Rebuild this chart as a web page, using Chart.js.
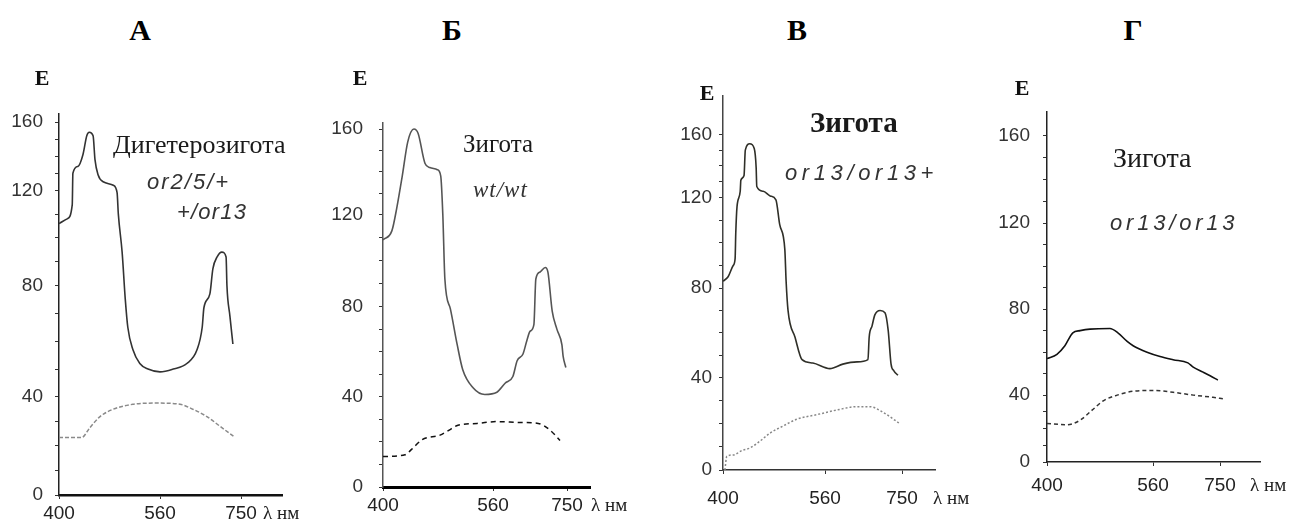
<!DOCTYPE html>
<html lang="ru">
<head>
<meta charset="utf-8">
<title>Спектры поглощения зигот</title>
<script src="https://cdn.jsdelivr.net/npm/chart.js@4.4.1/dist/chart.umd.min.js"></script>
<style>
  html, body { margin: 0; padding: 0; background: #fff; }
  #fig { position: relative; width: 1308px; height: 525px; overflow: hidden; background: #fff; }
  #fig canvas { position: absolute; }
  .t { position: absolute; white-space: nowrap; color: #111; line-height: 1; }
  .letter { font: bold 30px 'Liberation Serif', serif; transform: translate(-50%, -50%); color: #000; }
  .axE { font: bold 22px 'Liberation Serif', serif; transform: translate(-50%, -50%); }
  .axL { font: 19px 'Liberation Serif', serif; transform: translateY(-50%); color: #222; }
  .name { font-family: 'Liberation Serif', serif; transform: translateY(-50%); color: #1a1a1a; }
  .geno { font: italic 22px 'Liberation Sans', sans-serif; color: #333; transform: translateY(-50%); }
  .genoSerif { font: italic 23px 'Liberation Serif', serif; color: #333; transform: translateY(-50%); }
</style>
</head>
<body>
<div id="fig"></div>
<script>
// ---- data (wavelength, nm / E) ----
const wavelengthTicks = [400, 560, 750];
const eTicks = [0, 40, 80, 120, 160];
const panelLetters = ['А', 'Б', 'В', 'Г'];
const zygoteNames = ['Дигетерозигота', 'Зигота', 'Зигота', 'Зигота'];
const genotypes = [['or2/5/+', '+/or13'], ['wt/wt'], ['or13/or13+'], ['or13/or13']];

// А
const aSolidNm = [400, 413, 421, 422, 430, 438, 444, 448, 454, 457, 462, 470, 486, 492, 494, 500, 505, 509, 517, 528, 541, 560, 591, 623, 647, 659, 663, 677, 684, 694, 705, 715, 717, 724, 731];
const aSolidE  = [106, 108, 114, 130, 134, 141, 152, 154, 152, 138, 129, 125, 123, 119, 110, 94, 75, 65, 57, 52, 50, 49, 50, 52, 57, 65, 72, 77, 87, 92, 94, 92, 80, 69, 59];
const aDashNm  = [400, 436, 449, 465, 486, 517, 555, 607, 637, 670, 701, 736];
const aDashE   = [23.5, 23.5, 27.5, 32, 35, 37, 37.5, 37, 35, 32, 28, 23.5];

// Б
const bSolidNm = [400, 413, 420, 428, 436, 445, 451, 461, 468, 479, 484, 487, 490, 498, 508, 516, 531, 548, 570, 591, 611, 622, 637, 647, 655, 665, 670, 681, 694, 701, 712, 724, 737, 740, 747];
const bSolidE  = [109, 113, 123, 138, 154, 160, 158, 144, 142, 141, 138, 120, 92, 79, 63, 52, 44, 41, 42, 46, 49, 56, 59, 65, 69, 72, 92, 95, 97, 95, 78, 70, 63, 58, 53];
const bDashNm  = [400, 432, 442, 457, 483, 495, 509, 537, 570, 629, 676, 706, 732];
const bDashE   = [13.5, 14.3, 16.8, 21, 23, 25, 27.4, 28.2, 29, 28.6, 28.2, 25.3, 20.6];

// В
const vSolidNm = [400, 408, 416, 419, 420, 422, 427, 428, 433, 435, 442, 449, 452, 453, 463, 474, 483, 489, 497, 499, 502, 513, 524, 541, 572, 604, 639, 666, 669, 676, 683, 696, 708, 716, 723, 730, 740];
const vSolidE  = [83, 85, 90, 93, 104, 116, 124, 131, 134, 150, 154, 151, 139, 127, 124, 121, 119, 108, 97, 83, 70, 58, 48, 46.5, 44, 46, 47, 48, 58, 63, 68, 70, 69, 61, 46, 43, 41];
const vDashNm  = [403, 406, 416, 430, 442, 458, 474, 494, 516, 548, 590, 639, 671, 703, 745];
const vDashE   = [0, 6, 6.5, 8.5, 9.5, 12.5, 16, 19, 22, 24, 26, 27.4, 27.4, 25, 20];

// Г
const gSolidNm = [400, 415, 427, 439, 450, 465, 495, 507, 521, 530, 551, 580, 617, 659, 674, 702, 722, 744];
const gSolidE  = [57, 59, 63, 69, 70, 70.7, 71, 69, 65, 63, 60, 58, 56.5, 55, 53, 50.7, 49, 47];
const gDashNm  = [400, 430, 450, 468, 485, 506, 530, 560, 617, 674, 730, 759];
const gDashE   = [23, 22.3, 25, 31, 36.6, 40, 41.8, 42.2, 41.3, 40, 38.7, 37.8];

const solidSeries = [[aSolidNm, aSolidE], [bSolidNm, bSolidE], [vSolidNm, vSolidE], [gSolidNm, gSolidE]];
const dashSeries  = [[aDashNm, aDashE], [bDashNm, bDashE], [vDashNm, vDashE], [gDashNm, gDashE]];

// ---- layout of the four panels (the original axes are hand-labelled, so
// tick positions are uneven: a piecewise scale follows them) ----
const layout = [
  { ox: 59, right: 282, top: 98, bottom: 495,
    xv: [400, 560, 750, 846], xp: [59, 160, 241, 282],
    yv: [0, 40, 80, 120, 160, 165], yp: [495, 393, 277, 178, 107, 98],
    yPad: 12, xPad: 3, xAxisW: 2.5, xAxisC: '#111', yAxisC: '#222',
    solidC: '#333', dashC: '#8a8a8a', dash: [4, 2],
    letter: [140, 30], e: [42, 78], lam: [263, 513],
    name: [113, 145, 26, 'normal'], geno: [[147, 182, 2], [177, 212, 1.2]] },
  { ox: 383, right: 590, top: 103, bottom: 487,
    xv: [400, 560, 750, 809], xp: [383, 493, 567, 590],
    yv: [0, 40, 80, 120, 160, 163], yp: [487, 392, 297, 200, 110, 103],
    yPad: 16, xPad: 3, xAxisW: 3, xAxisC: '#000', yAxisC: '#555',
    solidC: '#555', dashC: '#111', dash: [5, 4],
    letter: [452, 30], e: [360, 78], lam: [591, 505],
    name: [463, 143, 25, 'normal'], geno: [[473, 190, 1]] },
  { ox: 723, right: 935, top: 85, bottom: 470,
    xv: [400, 560, 750, 831], xp: [723, 825, 902, 935],
    yv: [0, 40, 80, 120, 160, 185], yp: [470, 375, 283, 190, 125, 85],
    yPad: 7, xPad: 13, xAxisW: 1.5, xAxisC: '#333', yAxisC: '#444',
    solidC: '#2f2f28', dashC: '#888', dash: [2, 2],
    letter: [797, 30], e: [707, 93], lam: [933, 498],
    name: [810, 122, 29, 'bold'], geno: [[785, 173, 4.6]] },
  { ox: 1047, right: 1260, top: 95, bottom: 462,
    xv: [400, 560, 750, 863], xp: [1047, 1153, 1220, 1260],
    yv: [0, 40, 80, 120, 160, 171], yp: [462, 392, 302, 212, 120, 95],
    yPad: 13, xPad: 8, xAxisW: 1.5, xAxisC: '#222', yAxisC: '#222',
    solidC: '#111', dashC: '#333', dash: [4, 3],
    letter: [1133, 30], e: [1022, 88], lam: [1250, 485],
    name: [1113, 158, 28, 'normal'], geno: [[1110, 223, 3.8]] }
];

const PAD_L = 60, PAD_R = 8, PAD_T = 8, PAD_B = 46;

// piecewise-linear version of the linear scale
const LinearScale = Chart.registry.getScale('linear');
function lerpKnots(v, from, to) {
  let i = 0;
  while (i < from.length - 2 && v > from[i + 1]) i++;
  const t = (v - from[i]) / (from[i + 1] - from[i]);
  return to[i] + t * (to[i + 1] - to[i]);
}
class WarpScale extends LinearScale {
  static id = 'warp';
  getPixelForValue(value) {
    if (value === null || value === undefined || isNaN(value)) return NaN;
    return this.getPixelForDecimal(lerpKnots(value, this.options.knotValues, this.options.knotDecimals));
  }
  getValueForPixel(pixel) {
    return lerpKnots(this.getDecimalForPixel(pixel), this.options.knotDecimals, this.options.knotValues);
  }
}
Chart.register(WarpScale);

const fig = document.getElementById('fig');
function addText(cls, text, x, y, extra) {
  const d = document.createElement('div');
  d.className = 't ' + cls;
  d.textContent = text;
  d.style.left = x + 'px';
  d.style.top = y + 'px';
  if (extra) Object.assign(d.style, extra);
  fig.appendChild(d);
  return d;
}
const toPoints = ([xs, ys]) => xs.map((x, i) => ({ x, y: ys[i] }));
const yMinor = [];
for (let v = 0; v <= 160; v += 10) yMinor.push(v);

layout.forEach((g, p) => {
  const canvas = document.createElement('canvas');
  canvas.width = g.right - g.ox + PAD_L + PAD_R;
  canvas.height = g.bottom - g.top + PAD_T + PAD_B;
  canvas.style.left = (g.ox - PAD_L) + 'px';
  canvas.style.top = (g.top - PAD_T) + 'px';
  fig.appendChild(canvas);

  const tickFont = { family: "'Liberation Sans', sans-serif", size: 19 };
  new Chart(canvas, {
    type: 'line',
    data: {
      datasets: [
        { data: toPoints(solidSeries[p]), borderColor: g.solidC, borderWidth: 1.6,
          pointRadius: 0, cubicInterpolationMode: 'monotone', fill: false },
        { data: toPoints(dashSeries[p]), borderColor: g.dashC, borderWidth: 1.5,
          borderDash: g.dash, pointRadius: 0, cubicInterpolationMode: 'monotone', fill: false }
      ]
    },
    options: {
      responsive: false,
      animation: false,
      devicePixelRatio: 1,
      layout: { padding: { top: PAD_T, right: PAD_R, left: 0, bottom: 0 } },
      plugins: { legend: { display: false }, tooltip: { enabled: false } },
      events: [],
      scales: {
        x: {
          type: 'warp',
          min: g.xv[0], max: g.xv[g.xv.length - 1],
          knotValues: g.xv,
          knotDecimals: g.xp.map(px => (px - g.ox) / (g.right - g.ox)),
          afterBuildTicks: s => { s.ticks = wavelengthTicks.map(v => ({ value: v })); },
          afterFit: s => { s.height = PAD_B; },
          border: { display: true, color: g.xAxisC, width: g.xAxisW },
          grid: { drawOnChartArea: false, drawTicks: true, tickLength: 4, color: '#333' },
          ticks: { autoSkip: false, maxRotation: 0, padding: g.xPad, color: '#222', font: tickFont }
        },
        y: {
          type: 'warp',
          min: g.yv[0], max: g.yv[g.yv.length - 1],
          knotValues: g.yv,
          knotDecimals: g.yp.map(px => (g.bottom - px) / (g.bottom - g.top)),
          afterBuildTicks: s => { s.ticks = yMinor.map(v => ({ value: v })); },
          afterFit: s => { s.width = PAD_L; },
          border: { display: true, color: g.yAxisC, width: 1.5 },
          grid: { drawOnChartArea: false, drawTicks: true, tickLength: 4, color: '#333' },
          ticks: { autoSkip: false, padding: g.yPad, color: '#333', font: tickFont,
                   callback: v => (eTicks.includes(v) ? String(v) : '') }
        }
      }
    }
  });

  addText('letter', panelLetters[p], g.letter[0], g.letter[1]);
  addText('axE', 'E', g.e[0], g.e[1]);
  addText('axL', 'λ нм', g.lam[0], g.lam[1]);
  addText('name', zygoteNames[p], g.name[0], g.name[1],
          { fontSize: g.name[2] + 'px', fontWeight: g.name[3] });
  genotypes[p].forEach((txt, k) => {
    const [gx, gy, ls] = g.geno[k];
    addText(txt === 'wt/wt' ? 'genoSerif' : 'geno', txt, gx, gy, { letterSpacing: ls + 'px' });
  });
});
</script>
</body>
</html>
